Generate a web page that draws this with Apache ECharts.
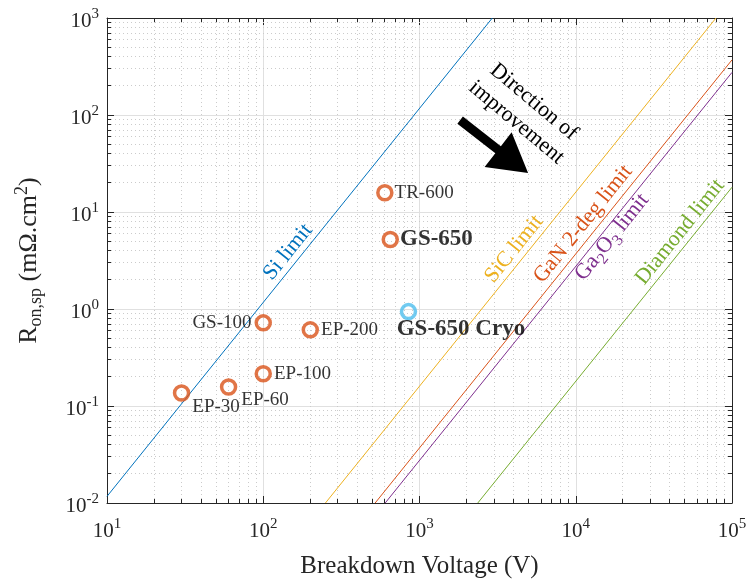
<!DOCTYPE html>
<html>
<head>
<meta charset="utf-8">
<script src="https://cdn.jsdelivr.net/npm/echarts@6/dist/echarts.min.js"></script>
<style>
  html, body { margin: 0; padding: 0; background: #ffffff; }
  #chart { width: 750px; height: 581px; }
</style>
</head>
<body>
<div id="chart"></div>
<script>
const FONT = '"Liberation Serif", "DejaVu Serif", "Times New Roman", serif';

// Commercial GaN devices: breakdown voltage (V) and specific on-resistance (mΩ·cm²)
const deviceNames   = ['EP-30', 'EP-60', 'EP-100', 'GS-100', 'EP-200', 'TR-600', 'GS-650'];
const deviceVoltage = [30, 60, 100, 100, 200, 600, 650];
const deviceRon     = [0.136, 0.157, 0.215, 0.72, 0.61, 15.8, 5.2];

// Same GS-650 part measured at cryogenic temperature
const cryoNames   = ['GS-650 Cryo'];
const cryoVoltage = [850];
const cryoRon     = [0.94];

// Unipolar material limits (slope 2 on log-log), end points [V, Ron]
const siLimit      = [[10, 0.0117], [2924, 1000]];
const sicLimit     = [[250, 0.01], [79000, 1000]];
const ganLimit     = [[520, 0.01], [100000, 370]];
const ga2o3Limit   = [[603, 0.01], [100000, 275]];
const diamondLimit = [[2360, 0.01], [100000, 18]];

// Axis decades (tick labels are 10^exponent)
const xTickExponents = [1, 2, 3, 4, 5];
const yTickExponents = [-2, -1, 0, 1, 2, 3];

const COLORS = {
  blue: '#0072BD', orange: '#D95319', yellow: '#EDB120',
  purple: '#7E2F8E', green: '#77AC30', cyan: '#4DBEEE'
};

const xMin = Math.pow(10, xTickExponents[0]);
const xMax = Math.pow(10, xTickExponents[xTickExponents.length - 1]);
const yMin = Math.pow(10, yTickExponents[0]);
const yMax = Math.pow(10, yTickExponents[yTickExponents.length - 1]);

// minor positions 2..9 x 10^k inside each decade
function minorValues(exps) {
  const out = [];
  for (let i = 0; i < exps.length - 1; i++) {
    for (let m = 2; m <= 9; m++) out.push(m * Math.pow(10, exps[i]));
  }
  return out;
}
const xMinor = minorValues(xTickExponents);
const yMinor = minorValues(yTickExponents);

const tickRich = {
  b: { fontFamily: FONT, fontSize: 21, color: '#262626', lineHeight: 28 },
  e: { fontFamily: FONT, fontSize: 15, color: '#262626', lineHeight: 14, verticalAlign: 'top' }
};
function expLabel(v) {
  const e = Math.round(Math.log10(v));
  return '{b|10}{e|' + e + '}';
}

const AXIS_COLOR = '#262626';
const MAJOR_GRID = '#e0e0e0';
const MINOR_GRID = '#cbcbcb';

function baseAxis(extra) {
  return Object.assign({
    type: 'log',
    logBase: 10,
    axisLine: { show: true, onZero: false, lineStyle: { color: AXIS_COLOR, width: 1 } },
    axisTick: { show: true, inside: true, length: 7, lineStyle: { color: AXIS_COLOR, width: 1 } },
    minorTick: { show: false },
    splitLine: { show: false },
    axisLabel: { show: false }
  }, extra);
}

function crisp(v) { return Math.round(v - 0.5) + 0.5; }

// Minor grid lines and minor ticks on both sides, vertical set
function renderXMinor(params, api) {
  const cs = params.coordSys;
  const x = crisp(api.coord([api.value(0), yMin])[0]);
  const top = cs.y, bot = cs.y + cs.height;
  return {
    type: 'group',
    children: [
      { type: 'line', shape: { x1: x, y1: top, x2: x, y2: bot },
        style: { stroke: MINOR_GRID, lineWidth: 1, lineDash: [1, 3] } },
      { type: 'line', shape: { x1: x, y1: bot, x2: x, y2: bot - 4 },
        style: { stroke: AXIS_COLOR, lineWidth: 1 } },
      { type: 'line', shape: { x1: x, y1: top, x2: x, y2: top + 4 },
        style: { stroke: AXIS_COLOR, lineWidth: 1 } }
    ]
  };
}
// horizontal set
function renderYMinor(params, api) {
  const cs = params.coordSys;
  const y = crisp(api.coord([xMin, api.value(1)])[1]);
  const left = cs.x, right = cs.x + cs.width;
  return {
    type: 'group',
    children: [
      { type: 'line', shape: { x1: left, y1: y, x2: right, y2: y },
        style: { stroke: MINOR_GRID, lineWidth: 1, lineDash: [1, 3] } },
      { type: 'line', shape: { x1: left, y1: y, x2: left + 4, y2: y },
        style: { stroke: AXIS_COLOR, lineWidth: 1 } },
      { type: 'line', shape: { x1: right, y1: y, x2: right - 4, y2: y },
        style: { stroke: AXIS_COLOR, lineWidth: 1 } }
    ]
  };
}

function limitSeries(name, points, color) {
  return {
    name: name, type: 'line', data: points, symbol: 'none', silent: true,
    lineStyle: { color: color, width: 1 }, z: 3, animation: false
  };
}

// per-device label placement
const labelPlacement = {
  'EP-30':  { position: 'right', distance: 2, offset: [0, 14] },
  'EP-60':  { position: 'right', distance: 4, offset: [0, 13] },
  'EP-100': { position: 'right', distance: 2 },
  'GS-100': { position: 'left',  distance: 3 },
  'EP-200': { position: 'right', distance: 2 },
  'TR-600': { position: 'right', distance: 1 },
  'GS-650': { position: 'right', distance: 1, fontWeight: 'bold', fontSize: 23 }
};

const deviceData = deviceNames.map((n, i) => ({
  name: n,
  value: [deviceVoltage[i], deviceRon[i]],
  label: Object.assign({ show: true, formatter: n, fontFamily: FONT, fontSize: 19, color: '#000' },
                       labelPlacement[n])
}));
const cryoData = cryoNames.map((n, i) => ({
  name: n,
  value: [cryoVoltage[i], cryoRon[i]],
  label: { show: true, formatter: n, fontFamily: FONT, fontSize: 23, fontWeight: 'bold',
           color: '#000', position: [-3, 15] }
}));

const option = {
  animation: false,
  backgroundColor: '#ffffff',
  grid: { left: 107, right: 18, top: 18, bottom: 78, containLabel: false, outerBoundsMode: 'none' },
  xAxis: [
    baseAxis({
      position: 'bottom', min: xMin, max: xMax, splitNumber: 4,
      splitLine: { show: true, lineStyle: { color: MAJOR_GRID, width: 1 } },
      axisLabel: { show: true, formatter: expLabel, rich: tickRich, margin: 14 },
      name: 'Breakdown Voltage (V)', nameLocation: 'middle', nameGap: 51,
      nameTextStyle: { fontFamily: FONT, fontSize: 25, color: '#262626' }
    }),
    baseAxis({ position: 'top', min: xMin, max: xMax, splitNumber: 4 })
  ],
  yAxis: [
    baseAxis({
      position: 'left', min: yMin, max: yMax, splitNumber: 5,
      splitLine: { show: true, lineStyle: { color: MAJOR_GRID, width: 1 } },
      axisLabel: { show: true, formatter: expLabel, rich: tickRich, margin: 8, padding: [6, 0, 0, 0] },
      name: '{n|R}{s|on,sp}{n| (mΩ.cm}{p|2}{n|)}', nameLocation: 'middle', nameGap: 62, nameRotate: 90,
      nameTextStyle: {
        rich: {
          n: { fontFamily: FONT, fontSize: 26, color: '#262626', lineHeight: 32 },
          s: { fontFamily: FONT, fontSize: 18, color: '#262626', lineHeight: 12, verticalAlign: 'bottom' },
          p: { fontFamily: FONT, fontSize: 18, color: '#262626', lineHeight: 14, verticalAlign: 'top' }
        }
      }
    }),
    baseAxis({ position: 'right', min: yMin, max: yMax, splitNumber: 5 })
  ],
  series: [
    { type: 'custom', renderItem: renderXMinor, data: xMinor.map(v => [v, yMin]),
      silent: true, z: 1, clip: false, animation: false },
    { type: 'custom', renderItem: renderYMinor, data: yMinor.map(v => [xMin, v]),
      silent: true, z: 1, clip: false, animation: false },
    limitSeries('Si limit', siLimit, COLORS.blue),
    limitSeries('SiC limit', sicLimit, COLORS.yellow),
    limitSeries('GaN 2-deg limit', ganLimit, COLORS.orange),
    limitSeries('Ga2O3 limit', ga2o3Limit, COLORS.purple),
    limitSeries('Diamond limit', diamondLimit, COLORS.green),
    {
      name: 'Devices', type: 'scatter', data: deviceData, symbol: 'circle', symbolSize: 14,
      itemStyle: { color: 'rgba(255,255,255,0)', borderColor: COLORS.orange, borderWidth: 3.5 },
      silent: true, z: 5
    },
    {
      name: 'Cryo', type: 'scatter', data: cryoData, symbol: 'circle', symbolSize: 14,
      itemStyle: { color: 'rgba(255,255,255,0)', borderColor: COLORS.cyan, borderWidth: 3.5 },
      silent: true, z: 5
    }
  ]
};

const chart = echarts.init(document.getElementById('chart'), null, { renderer: 'canvas' });
chart.setOption(option);

// Rotated labels written along the limit lines, anchored in data space
const SLOPE_ANGLE = 51.2 * Math.PI / 180;
const lineLabels = [
  { text: 'Si limit', at: [144, 3.87], color: COLORS.blue },
  { text: 'SiC limit', at: [4030, 4.16], color: COLORS.yellow },
  { text: 'GaN 2-deg limit', at: [11140, 7.52], color: COLORS.orange },
  { text: 'Ga{s|2}O{s|3} limit', at: [17060, 5.52], color: COLORS.purple, rich: true },
  { text: 'Diamond limit', at: [46500, 6.22], color: COLORS.green }
];
// Arrow pointing towards lower Ron / higher voltage
const arrowTail = [1820, 88.5];
const arrowTip  = [4955, 25.2];
const directionTextAt = [4740, 107];

function toPx(p) { return chart.convertToPixel({ xAxisIndex: 0, yAxisIndex: 0 }, p); }

const graphics = [];
lineLabels.forEach(l => {
  const p = toPx(l.at);
  const style = {
    text: l.rich ? '{n|' + l.text.replace(/\{s\|(\d)\}/g, '}{s|$1}{n|') + '}' : l.text,
    fill: l.color, font: '22px ' + FONT, align: 'center', verticalAlign: 'middle'
  };
  if (l.rich) {
    style.rich = {
      n: { fontFamily: FONT, fontSize: 22, fill: l.color, lineHeight: 30 },
      s: { fontFamily: FONT, fontSize: 16, fill: l.color, lineHeight: 12, verticalAlign: 'bottom' }
    };
  }
  graphics.push({ type: 'text', x: p[0], y: p[1], rotation: SLOPE_ANGLE, style: style, z: 10, silent: true });
});

(function () {
  const a = toPx(arrowTail), b = toPx(arrowTip);
  const dx = b[0] - a[0], dy = b[1] - a[1];
  const len = Math.sqrt(dx * dx + dy * dy);
  const ux = dx / len, uy = dy / len, nx = -uy, ny = ux;
  const headLen = 38, headHalf = 22, shaftHalf = 4.5;
  const bx = b[0] - ux * headLen, by = b[1] - uy * headLen;
  const pts = [
    [a[0] + nx * shaftHalf, a[1] + ny * shaftHalf],
    [bx + nx * shaftHalf, by + ny * shaftHalf],
    [bx + nx * headHalf, by + ny * headHalf],
    [b[0], b[1]],
    [bx - nx * headHalf, by - ny * headHalf],
    [bx - nx * shaftHalf, by - ny * shaftHalf],
    [a[0] - nx * shaftHalf, a[1] - ny * shaftHalf]
  ];
  graphics.push({ type: 'polygon', shape: { points: pts }, style: { fill: '#000' }, z: 10, silent: true });

  const t = toPx(directionTextAt);
  graphics.push({
    type: 'text', x: t[0], y: t[1], rotation: -40 * Math.PI / 180, z: 10, silent: true,
    style: { text: 'Direction of\nimprovement', font: '22px ' + FONT, fill: '#000',
             align: 'center', verticalAlign: 'middle', lineHeight: 27 }
  });
})();

chart.setOption({ graphic: graphics });
</script>
</body>
</html>
